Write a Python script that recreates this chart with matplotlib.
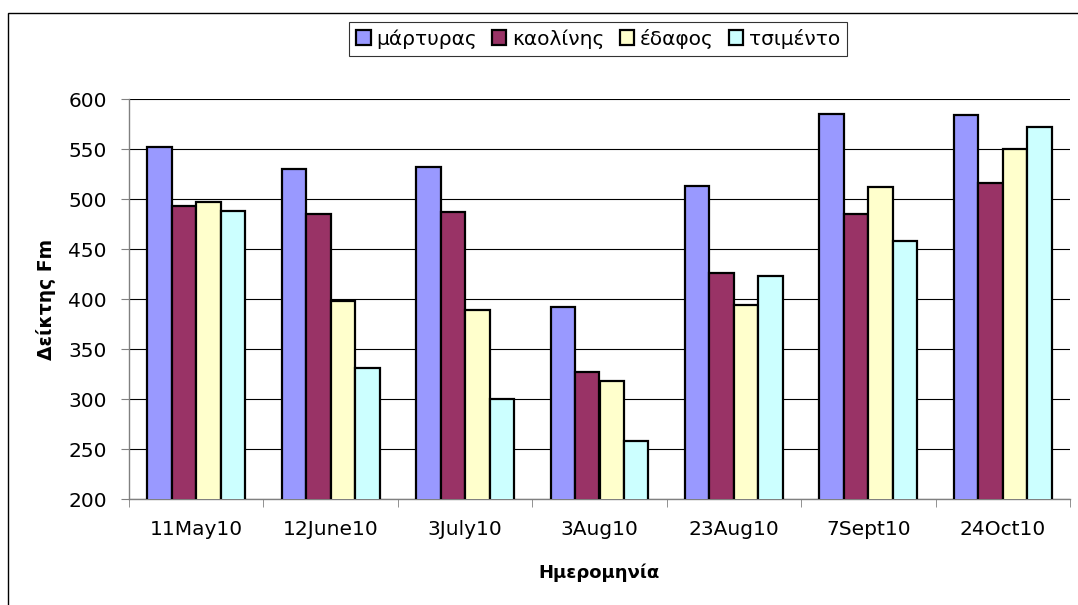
import numpy as np
import matplotlib
matplotlib.use("Agg")
import matplotlib.pyplot as plt
from matplotlib.patches import Rectangle

plt.rcParams['font.family'] = ['DejaVu Sans']

# Data
dates = ["11May10", "12June10", "3July10", "3Aug10", "23Aug10", "7Sept10", "24Oct10"]
series_names = ["μάρτυρας", "καολίνης", "έδαφος", "τσιμέντο"]
martyras = [552, 530, 532, 392, 513, 585, 584]
kaolinis = [493, 485, 487, 327, 426, 485, 516]
edafos = [497, 398, 389, 318, 394, 512, 550]
tsimento = [488, 331, 300, 258, 423, 458, 572]
colors = ["#9999FF", "#993366", "#FFFFCC", "#CCFFFF"]

W, H = 1078, 605
fig = plt.figure(figsize=(W / 100, H / 100), dpi=100)
ax = fig.add_axes([129 / W, 1 - 499.3 / H, (1070 - 129) / W, 400 / H])

# outer chart border (clipped at right/bottom in the original)
fig.patches.append(Rectangle((8 / W, -0.5), 2, 1.5 - 12.7 / H, transform=fig.transFigure,
                             fill=False, edgecolor="black", linewidth=1))

x = np.arange(len(dates))
w = 1 / 5.5
for i, vals in enumerate([martyras, kaolinis, edafos, tsimento]):
    ax.bar(x + (i - 1.5) * w, vals, width=w, color=colors[i], edgecolor="black",
           linewidth=1.6, label=series_names[i], zorder=3)

ax.set_ylim(200, 600)
ax.set_xlim(-0.5, len(dates) - 0.5)
ax.set_yticks(range(200, 601, 50))
ax.yaxis.grid(True, color="black", linewidth=0.8, zorder=0)
ax.set_axisbelow(True)

for s in ["top", "right"]:
    ax.spines[s].set_visible(False)
for s in ["left", "bottom"]:
    ax.spines[s].set_color("#808080")
    ax.spines[s].set_linewidth(1)

ax.set_xticks(x)
ax.set_xticklabels(dates)
ax.set_xticks(np.arange(-0.5, len(dates)), minor=True)
ax.tick_params(axis="x", which="major", length=0, pad=15, labelsize=14.5)
ax.tick_params(axis="x", which="minor", length=6, color="#808080", direction="out")
ax.tick_params(axis="y", length=6, color="#808080", pad=10, labelsize=14.5)

ax.set_xlabel("Ημερομηνία", fontsize=13, fontweight="bold", va="center")
ax.xaxis.set_label_coords(0.5, -0.1835)
ax.set_ylabel("Δείκτης Fm", fontsize=13.5, fontweight="bold", va="center")
ax.yaxis.set_label_coords(-0.088, 0.5)

leg = fig.legend(loc="center", bbox_to_anchor=((347.3 + 849.3) / 2 / W, 1 - 38.6 / H),
                 ncol=4, fontsize=14.5, frameon=True, fancybox=False,
                 handlelength=0.7, handleheight=0.75, handletextpad=0.3,
                 columnspacing=0.75, borderpad=0.35, borderaxespad=0)
leg.get_frame().set_edgecolor("black")
leg.get_frame().set_linewidth(0.8)
for p in leg.get_patches():
    p.set_linewidth(1.6)

fig.savefig("out.png", dpi=100)
